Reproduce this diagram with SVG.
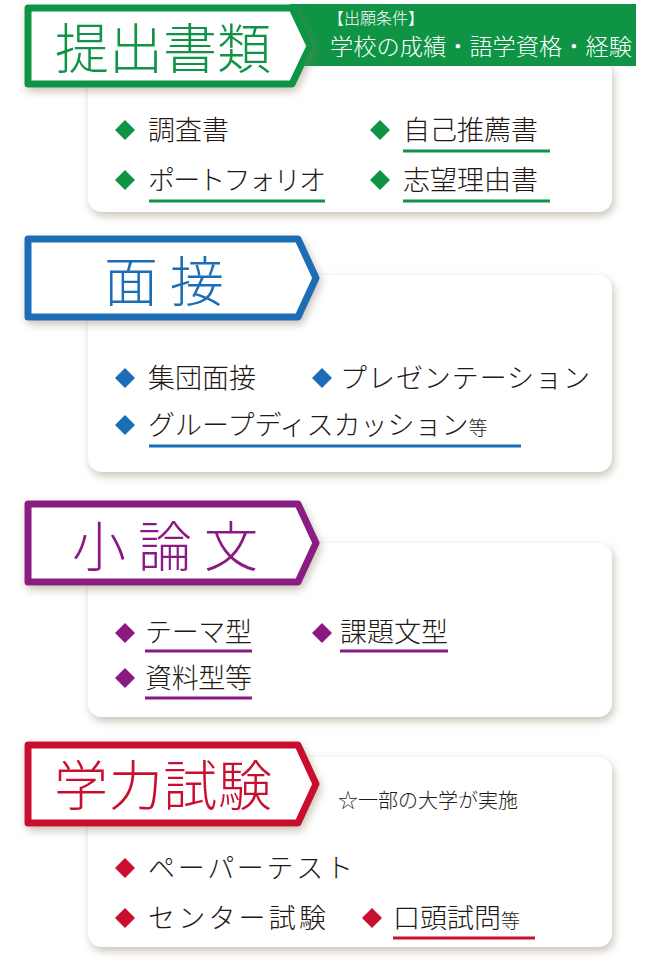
<svg xmlns="http://www.w3.org/2000/svg" width="660" height="980" viewBox="0 0 660 980">
<defs>
<style>
text{font-family:"Noto Sans CJK JP","Noto Sans",sans-serif;font-weight:300;}
.card{fill:#fff;filter:url(#sh);}
.tag{fill:#fff;stroke-width:7;stroke-linejoin:round;filter:url(#sh);}
.it{font-size:27px;fill:#231815;}
.sm{font-size:19px;}
.ttl{font-size:54px;text-anchor:middle;}
.ul{stroke-width:3;}
</style>
<filter id="sh" x="-10%" y="-10%" width="125%" height="130%"><feDropShadow dx="2" dy="4" stdDeviation="4" flood-color="#8a7a60" flood-opacity="0.45"/></filter>
<path id="dm" d="M0,-10 L10,0 L0,10 L-10,0Z"/>
</defs>
<rect width="660" height="980" fill="#fff"/>

<g id="s1">
<rect class="card" x="88" y="60" width="524" height="152" rx="14"/>
<rect x="290" y="4" width="346" height="62" fill="#0e9444"/>
<text x="328" y="24" font-size="16" fill="#fff">【出願条件】</text>
<text x="330" y="55" font-size="23" fill="#fff" textLength="302" lengthAdjust="spacingAndGlyphs">学校の成績・語学資格・経験</text>
<path class="tag" stroke="#0e9444" d="M28,8 H292 L310,46 L292,84 H28 Z"/>
<text class="ttl" x="163" y="69" fill="#0e9444" textLength="216">提出書類</text>
<g fill="#0e9444"><use href="#dm" x="125" y="130"/><use href="#dm" x="380" y="130"/><use href="#dm" x="125" y="180"/><use href="#dm" x="380" y="180"/></g>
<text class="it" x="148" y="140">調査書</text>
<text class="it" x="403" y="140">自己推薦書</text>
<text class="it" x="148" y="190" textLength="178">ポートフォリオ</text>
<text class="it" x="403" y="190">志望理由書</text>
<g stroke="#0e9444" class="ul"><line x1="403" y1="151" x2="550" y2="151"/><line x1="149" y1="201" x2="325" y2="201"/><line x1="403" y1="201" x2="550" y2="201"/></g>
</g>

<g id="s2">
<rect class="card" x="88" y="275" width="524" height="197" rx="14"/>
<path class="tag" stroke="#1b6db5" d="M28,239 H298 L316,278 L298,317 H28 Z"/>
<text class="ttl" x="164" y="302" fill="#1b6db5">面 接</text>
<g fill="#1b6db5"><use href="#dm" x="125" y="378"/><use href="#dm" x="322" y="378"/><use href="#dm" x="125" y="425"/></g>
<text class="it" x="148" y="388">集団面接</text>
<text class="it" x="340" y="388" textLength="250">プレゼンテーション</text>
<text class="it" x="148" y="435">グループディスカッション<tspan class="sm">等</tspan></text>
<line class="ul" stroke="#1b6db5" x1="149" y1="446" x2="521" y2="446"/>
</g>

<g id="s3">
<rect class="card" x="88" y="543" width="524" height="174" rx="14"/>
<path class="tag" stroke="#8a1a82" d="M28,504 H298 L316,543 L298,582 H28 Z"/>
<text class="ttl" x="165" y="567" fill="#8a1a82">小 論 文</text>
<g fill="#8a1a82"><use href="#dm" x="125" y="633"/><use href="#dm" x="322" y="633"/><use href="#dm" x="125" y="678"/></g>
<text class="it" x="145" y="642" textLength="107">テーマ型</text>
<text class="it" x="340" y="642" textLength="108">課題文型</text>
<text class="it" x="145" y="688" textLength="107">資料型等</text>
<g stroke="#8a1a82" class="ul"><line x1="145" y1="651" x2="252" y2="651"/><line x1="340" y1="651" x2="448" y2="651"/><line x1="145" y1="698" x2="252" y2="698"/></g>
</g>

<g id="s4">
<rect class="card" x="88" y="757" width="524" height="190" rx="14"/>
<path class="tag" stroke="#c8102e" d="M28,745 H298 L316,784 L298,823 H28 Z"/>
<text class="ttl" x="163" y="806" fill="#c8102e" textLength="218">学力試験</text>
<text x="338" y="808" font-size="20" fill="#231815">☆一部の大学が実施</text>
<g fill="#c8102e"><use href="#dm" x="125" y="868"/><use href="#dm" x="125" y="918"/><use href="#dm" x="372" y="918"/></g>
<text class="it" x="148" y="878" textLength="205">ペーパーテスト</text>
<text class="it" x="148" y="928" textLength="178">センター試験</text>
<text class="it" x="393" y="928">口頭試問<tspan class="sm">等</tspan></text>
<line class="ul" stroke="#c8102e" x1="393" y1="938" x2="535" y2="938"/>
</g>
</svg>
